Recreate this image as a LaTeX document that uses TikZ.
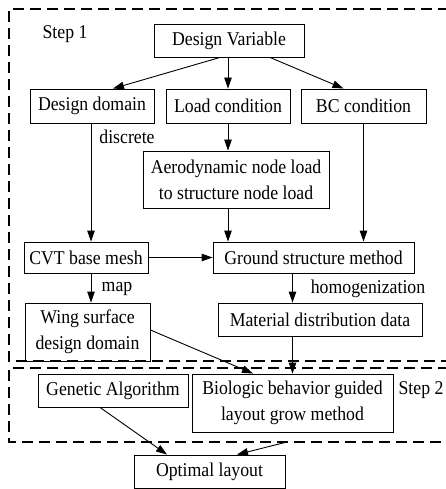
\documentclass[tikz,border=0pt]{standalone}
\usepackage{fontspec}
\setmainfont[FakeStretch=0.91]{Liberation Serif}
\usetikzlibrary{arrows.meta,calc}
\begin{document}
\begin{tikzpicture}[x=1pt,y=-1pt,
  box/.style={draw,line width=0.9pt,inner sep=0pt,align=center,font=\fontsize{19.5}{26}\selectfont},
  lbl/.style={inner sep=0pt,font=\fontsize{19.5}{26}\selectfont},
  arr/.style={line width=0.9pt,-{Triangle[length=11pt,width=7.5pt]}},
  frame/.style={line width=2pt,dash pattern=on 11pt off 6pt}]
\useasboundingbox (0,0) rectangle (445,489);
% frames
\draw[frame] (449,9) -- (9,9) -- (9,361) -- (449,361);
\draw[frame] (449,368) -- (9,368) -- (9,442) -- (449,442);
\node[lbl] (s1) at (65,34) {Step 1};
\node[lbl] (s2) at (421,390) {Step 2};
% nodes
\node[box,minimum width=150,minimum height=33] (DV) at (229,40.5) {Design Variable};
\node[box,minimum width=124,minimum height=34] (DD) at (92,106) {Design domain};
\node[box,minimum width=124,minimum height=34] (LC) at (228,106) {Load condition};
\node[box,minimum width=125,minimum height=34] (BC) at (363.5,106) {BC condition};
\node[box,minimum width=186,minimum height=57] (AE) at (236,179.5) {Aerodynamic node load\\to structure node load};
\node[box,minimum width=124,minimum height=31] (CVT) at (86,257.5) {CVT base mesh};
\node[box,minimum width=201,minimum height=31] (GSM) at (313.5,257.5) {Ground structure method};
\node[box,minimum width=125,minimum height=58] (WS) at (87.5,332) {Wing surface\\design domain};
\node[box,minimum width=204,minimum height=33] (MD) at (320,319.5) {Material distribution data};
\node[box,minimum width=150,minimum height=33] (GA) at (113,390.5) {Genetic Algorithm};
\node[box,minimum width=201,minimum height=58] (BB) at (292.5,403) {Biologic behavior guided\\layout grow method};
\node[box,minimum width=151,minimum height=33] (OL) at (209.5,471.5) {Optimal layout};
% labels
\node[lbl] (disc) at (127,137) {discrete};
\node[lbl] (map) at (117,289) {map};
\node[lbl] (hom) at (368,289) {homogenization};
\coordinate (bbout) at (287,442);
% arrows
\draw[arr] ($(DV.south)+(-9,0)$) -- ($(DD.north)+(21,0)$);
\draw[arr] (LC.north |- DV.south) -- (LC.north);
\draw[arr] ($(DV.south)+(41,0)$) -- ($(BC.north)+(-20,0)$);
\draw[arr] ($(DD.south)+(-1,0)$) -- ($(DD.south |- CVT.north)+(-1,0)$);
\draw[arr] (LC.south) -- (LC.south |- AE.north);
\draw[arr] (LC.south |- AE.south) -- (LC.south |- GSM.north);
\draw[arr] (BC.south) -- (BC.south |- GSM.north);
\draw[arr] (CVT.east) -- (GSM.west);
\draw[arr] ($(DD.south |- CVT.south)+(-1,0)$) -- ($(DD.south |- WS.north)+(-1,0)$);
\draw[arr] (BB.north |- GSM.south) -- (BB.north |- MD.north);
\draw[arr] (BB.north |- MD.south) -- (BB.north);
\draw[arr] ($(WS.east)+(0,-2)$) -- ($(BB.north)+(-39.5,0)$);
\draw[arr] ($(GA.south)+(-13,0)$) -- ($(OL.north)+(-42.5,0)$);
\draw[arr] (bbout) -- ($(OL.north)+(27.5,0)$);
\end{tikzpicture}
\end{document}
